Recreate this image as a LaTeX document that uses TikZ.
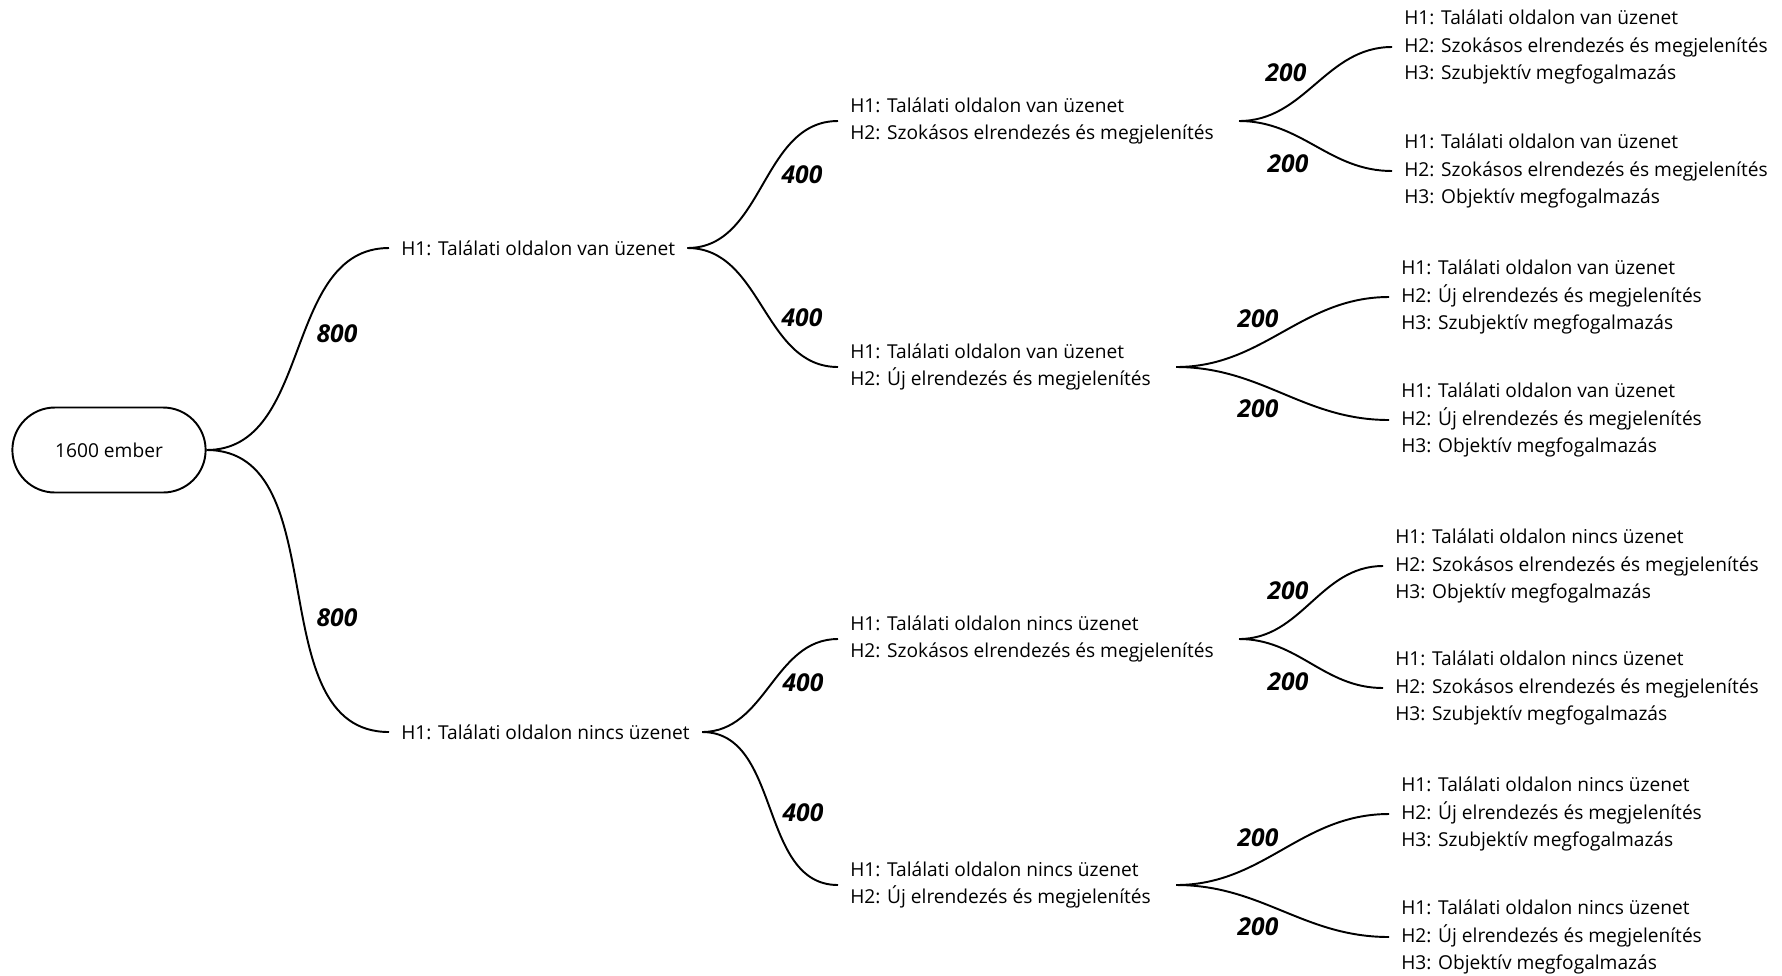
\documentclass[tikz,border=0pt]{standalone}
\usepackage{fontspec}
\setmainfont{Open Sans}
\usetikzlibrary{shapes.misc, positioning, calc}

\tikzset{
    root/.style={draw, rounded rectangle, line width=1.1pt, minimum width=4.1cm, minimum height=1.7cm},
    choice/.style={anchor=west, align=left, inner xsep=0.24cm, font=\fontsize{10.9pt}{15.5pt}\selectfont},
    cnt/.style={font=\fontsize{14pt}{16pt}\selectfont\bfseries\itshape, inner sep=0pt},
    branch/.style={line width=1.1pt},
}

\begin{document}
\begin{tikzpicture}[x=0.02cm, y=-0.02cm]
    \useasboundingbox (0,0) rectangle (1782,975);

    \node[root, font=\fontsize{10.9pt}{15.5pt}\selectfont] (r) at (109,450) {1600 ember};

    % H1
    \node[choice] (a) at (389,248) {H1: Találati oldalon van üzenet};
    \node[choice] (b) at (389,732) {H1: Találati oldalon nincs üzenet};

    % H2
    \node[choice] (aa) at (838,121) {H1: Találati oldalon van üzenet\\H2: Szokásos elrendezés és megjelenítés};
    \node[choice] (ab) at (838,367) {H1: Találati oldalon van üzenet\\H2: Új elrendezés és megjelenítés};
    \node[choice] (ba) at (838,639) {H1: Találati oldalon nincs üzenet\\H2: Szokásos elrendezés és megjelenítés};
    \node[choice] (bb) at (838,885) {H1: Találati oldalon nincs üzenet\\H2: Új elrendezés és megjelenítés};

    % H3
    \node[choice] (aaa) at (1392,47) {H1: Találati oldalon van üzenet\\H2: Szokásos elrendezés és megjelenítés\\H3: Szubjektív megfogalmazás};
    \node[choice] (aab) at (1392,171) {H1: Találati oldalon van üzenet\\H2: Szokásos elrendezés és megjelenítés\\H3: Objektív megfogalmazás};
    \node[choice] (aba) at (1389,297) {H1: Találati oldalon van üzenet\\H2: Új elrendezés és megjelenítés\\H3: Szubjektív megfogalmazás};
    \node[choice] (abb) at (1389,420) {H1: Találati oldalon van üzenet\\H2: Új elrendezés és megjelenítés\\H3: Objektív megfogalmazás};
    \node[choice] (baa) at (1383,566) {H1: Találati oldalon nincs üzenet\\H2: Szokásos elrendezés és megjelenítés\\H3: Objektív megfogalmazás};
    \node[choice] (bab) at (1383,688) {H1: Találati oldalon nincs üzenet\\H2: Szokásos elrendezés és megjelenítés\\H3: Szubjektív megfogalmazás};
    \node[choice] (bba) at (1389,814) {H1: Találati oldalon nincs üzenet\\H2: Új elrendezés és megjelenítés\\H3: Szubjektív megfogalmazás};
    \node[choice] (bbb) at (1389,937) {H1: Találati oldalon nincs üzenet\\H2: Új elrendezés és megjelenítés\\H3: Objektív megfogalmazás};

    \draw[branch]
        (r.east) edge[out=0, in=180] (a.west)
        (r.east) edge[out=0, in=180] (b.west)
        (a.east) edge[out=0, in=180] (aa.west)
        (a.east) edge[out=0, in=180] (ab.west)
        (b.east) edge[out=0, in=180] (ba.west)
        (b.east) edge[out=0, in=180] (bb.west)
        ([xshift=0.26cm]aa.east) edge[out=0, in=180] (aaa.west)
        ([xshift=0.26cm]aa.east) edge[out=0, in=180] (aab.west)
        ([xshift=0.26cm]ab.east) edge[out=0, in=180] (aba.west)
        ([xshift=0.26cm]ab.east) edge[out=0, in=180] (abb.west)
        ([xshift=0.26cm]ba.east) edge[out=0, in=180] (baa.west)
        ([xshift=0.26cm]ba.east) edge[out=0, in=180] (bab.west)
        ([xshift=0.26cm]bb.east) edge[out=0, in=180] (bba.west)
        ([xshift=0.26cm]bb.east) edge[out=0, in=180] (bbb.west)
        ;

    % counts
    \node[cnt] (na) at (337,334) {800};
    \node[cnt] (nb) at (337,618) {800};
    \node[cnt] (naa) at (802,175) {400};
    \node[cnt] (nab) at (802,318) {400};
    \node[cnt] (nba) at (803,683) {400};
    \node[cnt] (nbb) at (803,813) {400};
    \node[cnt] (naaa) at (1286,73) {200};
    \node[cnt] (naab) at (1288,164) {200};
    \node[cnt] (naba) at (1258,319) {200};
    \node[cnt] (nabb) at (1258,409) {200};
    \node[cnt] (nbaa) at (1288,591) {200};
    \node[cnt] (nbab) at (1288,682) {200};
    \node[cnt] (nbba) at (1258,838) {200};
    \node[cnt] (nbbb) at (1258,927) {200};
\end{tikzpicture}
\end{document}
